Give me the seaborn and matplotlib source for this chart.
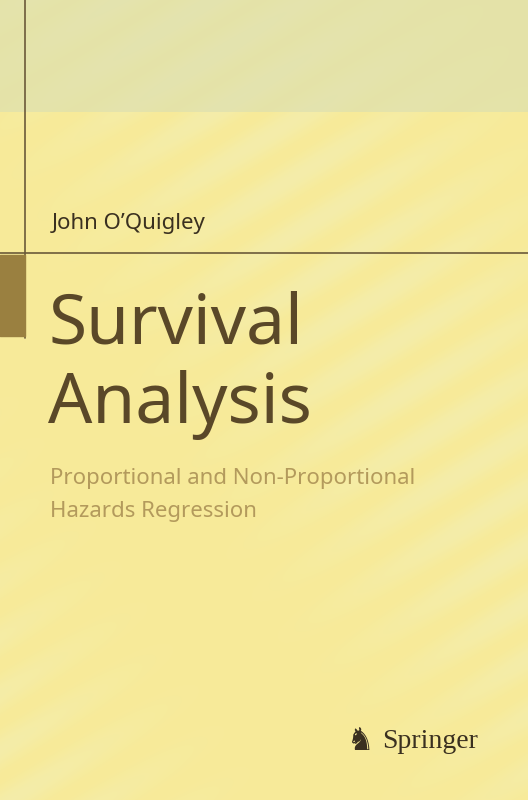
import numpy as np
import matplotlib
matplotlib.use("Agg")
import matplotlib.pyplot as plt
import seaborn as sns

author = "John O\u2019Quigley"
title_lines = ["Survival", "Analysis"]
subtitle_lines = ["Proportional and Non-Proportional", "Hazards Regression"]
publisher = "Springer"

sns.set_theme(style="white")
plt.rcParams['font.family'] = ['Noto Sans', 'DejaVu Sans']

W, H = 528, 800
fig = plt.figure(figsize=(W/100, H/100), dpi=100)
ax = fig.add_axes([0, 0, 1, 1])
ax.set_xlim(0, W); ax.set_ylim(H, 0); ax.axis('off')

yy, xx = np.mgrid[0:H, 0:W]
yel = np.array([0.97, 0.92, 0.60])
img = np.zeros((H, W, 3)); img[:] = yel
band = 0.5 + 0.5*np.sin((xx*0.6 + yy*1.0)/9.0)
soft = 0.5 + 0.5*np.sin((xx*0.8 - yy*0.5)/90.0)
light = np.array([0.93, 0.95, 0.82])
mix = (0.3*band*soft)[..., None]
img = img*(1-mix) + light*mix
top = np.array([0.85, 0.87, 0.70])
img[:112] = img[:112]*0.4 + top*0.6
ax.imshow(np.clip(img, 0, 1), extent=[0, W, H, 0], zorder=0, aspect='auto')

line_c = '#6b5a3a'
ax.plot([25, 25], [0, 338], color=line_c, lw=1.2, zorder=2)
ax.plot([0, W], [253, 253], color=line_c, lw=1.2, zorder=2)
ax.fill_between([0, 25], 255, 336, color='#9a8040', zorder=2)

ax.text(52, 229, author, fontsize=16, fontweight='bold', color='#3a3020', zorder=3)
ax.text(48, 343, title_lines[0], fontsize=50, color='#5a4828', zorder=3)
ax.text(48, 423, title_lines[1], fontsize=50, color='#5a4828', zorder=3)
ax.text(50, 484, subtitle_lines[0], fontsize=16, color='#b39a5c', zorder=3)
ax.text(50, 517, subtitle_lines[1], fontsize=16, color='#b39a5c', zorder=3)
ax.text(382, 748, publisher, fontsize=20, color='#3a3020', family=['Liberation Serif', 'DejaVu Serif'], zorder=3)
ax.text(346, 750, "\u265e", fontsize=22, color='#3a3020', family=['DejaVu Sans'], zorder=3)

fig.savefig("out.png", dpi=100)
